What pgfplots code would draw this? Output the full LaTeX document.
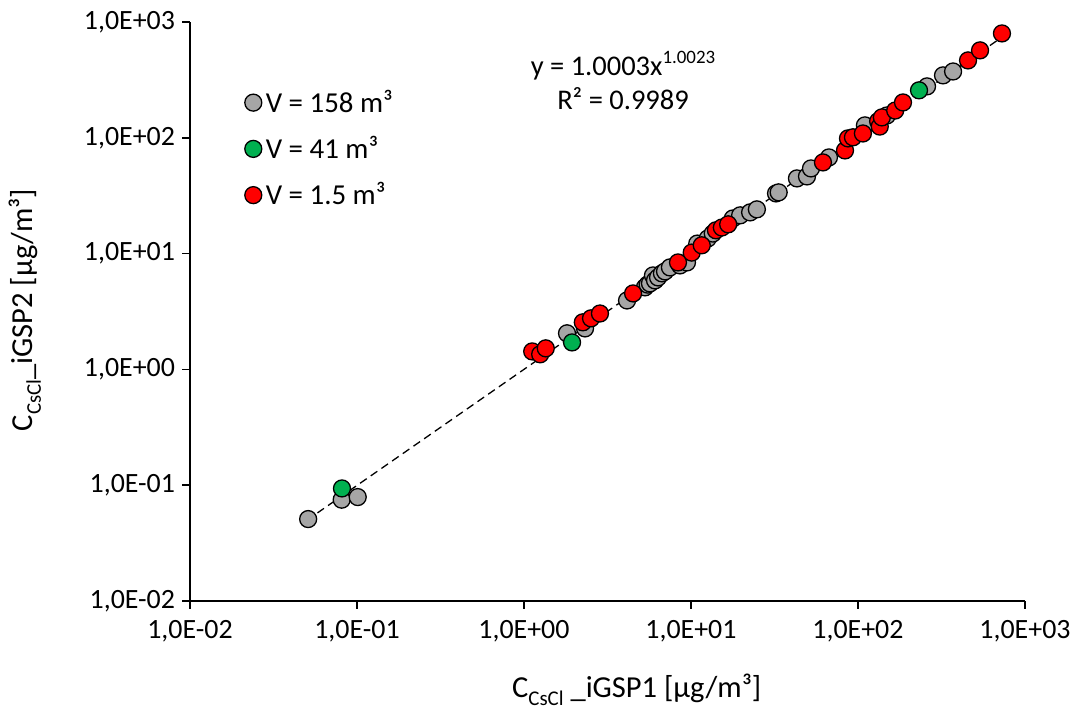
\documentclass[border=0pt]{standalone}
\usepackage{fontspec}
\setmainfont{Carlito}
\usepackage{pgfplots}
\pgfplotsset{compat=1.18}
\definecolor{mgray}{HTML}{A6A6A6}
\definecolor{mgreen}{HTML}{00B050}
\definecolor{mred}{HTML}{FF0000}
\newcommand{\sub}[1]{\raisebox{-0.28em}{\fontsize{10.5}{12}\selectfont #1}}
\newcommand{\sups}[1]{\raisebox{0.42em}{\fontsize{9.5}{11}\selectfont #1}}
\begin{document}
\begin{tikzpicture}
\useasboundingbox (-95bp,-55bp) rectangle (444bp,300.5bp);
\begin{axis}[
 at={(0,0)}, anchor=south west,
 scale only axis, width=417.5bp, height=289.5bp,
 xmode=log, ymode=log,
 xmin=0.01, xmax=1000, ymin=0.01, ymax=1000,
 axis x line=bottom, axis y line=left,
 axis line style={-, line width=0.75bp, black},
 tick align=outside, major tick length=4bp,
 major tick style={line width=0.75bp, black},
 minor tick num=0, minor tick style={draw=none},
 xtick={0.01,0.1,1,10,100,1000},
 ytick={0.01,0.1,1,10,100,1000},
 xticklabels={{1,0E-02},{1,0E-01},{1,0E+00},{1,0E+01},{1,0E+02},{1,0E+03}},
 yticklabels={{1,0E-02},{1,0E-01},{1,0E+00},{1,0E+01},{1,0E+02},{1,0E+03}},
 ticklabel style={font=\fontsize{14}{16}\selectfont},
 xticklabel style={yshift=-2bp},
 xlabel={C\sub{CsCl} \_iGSP1 [µg/m³]},
 ylabel={C\sub{CsCl}\_iGSP2 [µg/m³]},
 label style={font=\fontsize{15.3}{17}\selectfont},
 x label style={at={(axis description cs:0.535,-0.1537)}, anchor=center},
 y label style={at={(axis description cs:-0.1976,0.5026)}, anchor=center, rotate=0},
 legend style={at={(0.058,0.897)}, anchor=north west, draw=none, fill=none,
   font=\fontsize{14.5}{16}\selectfont, row sep=6.5bp, cells={anchor=west}},
 legend image code/.code={\draw[#1] plot coordinates {(4.5bp,0bp)};},
 clip=false,
]
\addplot[only marks, mark=*, mark size=4.25bp, mark options={fill=mgray, draw=black, line width=0.65bp}] coordinates {
(0.051,0.051) (0.081,0.075) (0.101,0.079) (1.81,2.05) (2.32,2.26) (4.14,3.94)
(5.30,5.11) (5.5,5.4) (5.68,5.53) (5.92,6.48) (6.09,5.87) (6.35,6.23) (6.70,6.75)
(6.99,7.02) (7.48,7.60) (8.59,7.91) (9.46,8.39) (10.9,12.2) (12.6,13.5) (13.5,14.9)
(17.8,20.1) (19.7,21.4) (22.6,22.7) (24.8,24.1) (32.3,33.1) (33.5,33.8) (43.1,44.6)
(49.5,46.4) (52.3,54.4) (67.0,67.7) (110,128) (149,156) (259,278) (323,346) (371,374)
};
\addlegendentry{V = 158 m³}
\addplot[only marks, mark=*, mark size=4.25bp, mark options={fill=mgreen, draw=black, line width=0.65bp}] coordinates {
(0.0813,0.0938) (1.94,1.71) (232,257)
};
\addlegendentry{V = 41 m³}
\addplot[only marks, mark=*, mark size=4.25bp, mark options={fill=mred, draw=black, line width=0.65bp}] coordinates {
(1.12,1.43) (1.25,1.35) (1.35,1.52) (2.25,2.55) (2.52,2.76) (2.85,3.04) (4.50,4.53)
(8.36,8.39) (10.1,10.2) (11.6,11.8) (14.1,15.9) (15.3,16.8) (16.7,17.9) (61.7,61.3)
(83.6,77.8) (87.1,98.8) (93.3,101) (107,109) (132,139) (135,125) (139,150) (167,172)
(186,202) (456,466) (538,569) (728,797)
};
\addlegendentry{V = 1.5 m³}
\addplot[forget plot, black, line width=0.65bp, dash pattern=on 4bp off 2.5bp, no markers] coordinates {(0.05,0.0497) (730,741.6)};
\node[font=\fontsize{14.3}{16}\selectfont, anchor=center] at (rel axis cs:0.5186,0.924) {y = 1.0003x\sups{1.0023}};
\node[font=\fontsize{14.3}{16}\selectfont, anchor=center] at (rel axis cs:0.5186,0.867) {R² = 0.9989};
\end{axis}
\end{tikzpicture}
\end{document}
